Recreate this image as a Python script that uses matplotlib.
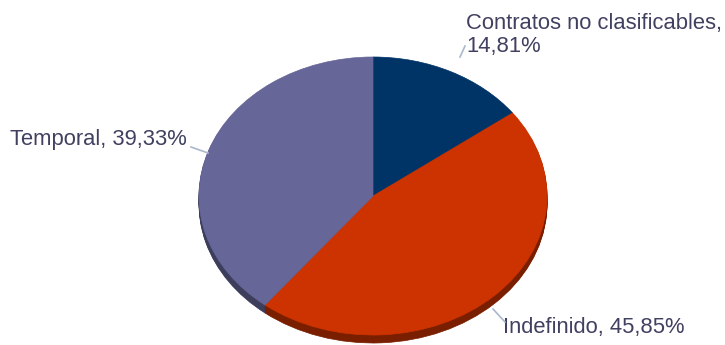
import matplotlib.pyplot as plt
from matplotlib.patches import Wedge
from matplotlib.transforms import Affine2D

# Chart data
categories = ["Contratos no clasificables", "Indefinido", "Temporal"]
values = [14.81, 45.85, 39.33]
colors = ["#003366", "#cc3300", "#666699"]
side_colors = ["#00213f", "#7a1e00", "#3d3d5c"]

# Geometry (pixel coordinates)
CX, CY = 373, 196
RX, RY = 174, 139
DEPTH = 8

fig = plt.figure(figsize=(7.25, 3.45), dpi=100)
ax = fig.add_axes([0, 0, 1, 1])
ax.set_xlim(0, 725)
ax.set_ylim(345, 0)
ax.axis("off")

total = sum(values)
angles = []
start = 90.0
for v in values:
    sweep = 360.0 * v / total
    # clockwise from 12 o'clock; y axis is inverted so angles go clockwise visually
    angles.append((start - sweep, start))
    start -= sweep


def draw_wedge(theta1, theta2, color, dy, z):
    # wedge in unit circle, squashed into ellipse; flip sign for inverted y
    tr = Affine2D().scale(RX, -RY).translate(CX, CY + dy) + ax.transData
    w = Wedge((0, 0), 1.0, theta1, theta2, facecolor=color, edgecolor=color,
              linewidth=0.5, transform=tr, zorder=z)
    ax.add_patch(w)


# side band
for d in range(DEPTH, 0, -1):
    for (t1, t2), c in zip(angles, side_colors):
        draw_wedge(t1, t2, c, d, 1)

# top face
for (t1, t2), c in zip(angles, colors):
    draw_wedge(t1, t2, c, 0, 2)

text_color = "#404060"
line_color = "#a9b8cc"
fs = 15.8

# labels
ax.text(10, 140, "%s, %s%%" % ("Temporal", f"{values[2]:.2f}".replace(".", ",")),
        color=text_color, fontsize=fs, family="Liberation Sans", va="center", ha="left")
ax.plot([191, 208], [147, 153], color=line_color, lw=1.2, zorder=3)

ax.text(466, 35, "%s,\n%s%%" % ("Contratos no clasificables", f"{values[0]:.2f}".replace(".", ",")),
        color=text_color, fontsize=fs, family="Liberation Sans", va="center", ha="left",
        linespacing=1.1)
ax.plot([460, 465], [57, 46], color=line_color, lw=1.2, zorder=3)

ax.text(503, 327, "%s, %s%%" % ("Indefinido", f"{values[1]:.2f}".replace(".", ",")),
        color=text_color, fontsize=fs, family="Liberation Sans", va="center", ha="left")
ax.plot([493, 505], [309, 322], color=line_color, lw=1.2, zorder=3)

fig.savefig("out.png", dpi=100)
